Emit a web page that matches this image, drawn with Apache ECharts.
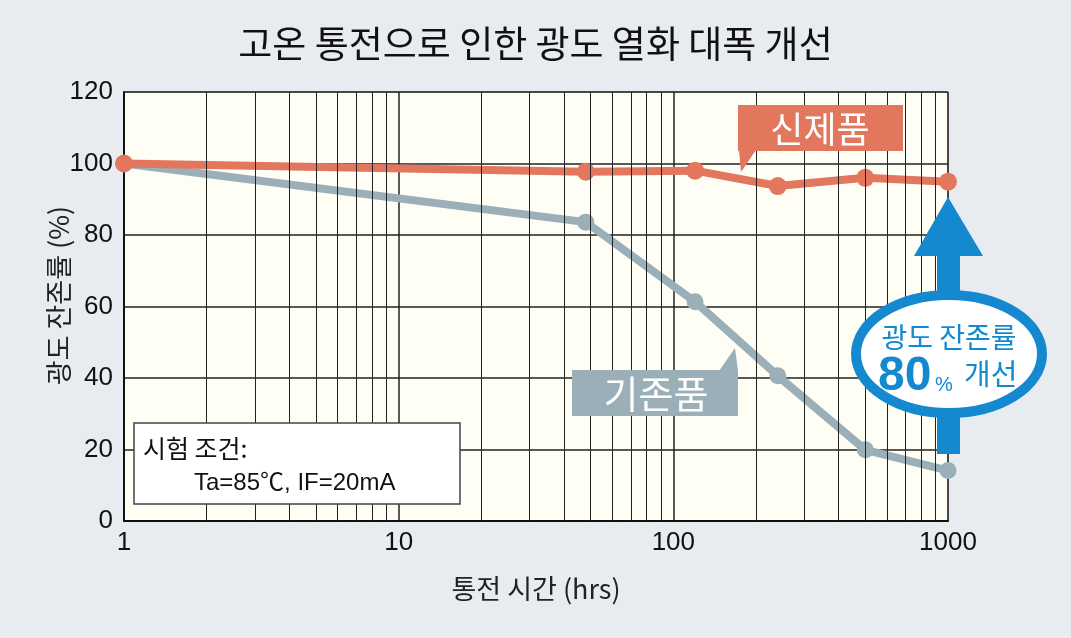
<!DOCTYPE html>
<html>
<head>
<meta charset="utf-8">
<script src="https://cdn.jsdelivr.net/npm/echarts@6/dist/echarts.min.js"></script>
<style>
  html, body { margin: 0; padding: 0; background: #e8ecf0; }
  #chart { width: 1071px; height: 638px; }
</style>
</head>
<body>
<div id="chart"></div>
<script>
// 통전 시간 (hrs)
const hours = [1, 48, 120, 240, 500, 1000]
// 신제품 광도 잔존률 (%)
const newProduct = [100, 97.7, 98, 93.7, 96, 94.9]
// 기존품 광도 잔존률 (%)
const oldProduct = [100, 83.6, 61.3, 40.6, 19.9, 14.1]
// 로그 눈금 (보조 격자선)
const decades = [1, 10, 100]
const minorSteps = [2, 3, 4, 5, 6, 7, 8, 9]

const FONT = '"Liberation Sans", "Noto Sans CJK KR", sans-serif'
const KFONT = '"Noto Sans CJK KR", "Liberation Sans", sans-serif'
const ORANGE = '#e3775e'
const GRAY = '#9bafb8'
const BLUE = '#1589cf'

const minorLines = []
decades.forEach(d => minorSteps.forEach(s => minorLines.push({ xAxis: d * s })))

const chart = echarts.init(document.getElementById('chart'))

const option = {
  backgroundColor: '#e8ecf0',
  animation: false,
  title: {
    text: '고온 통전으로 인한 광도 열화 대폭 개선',
    left: 'center',
    top: 20,
    textStyle: { fontFamily: KFONT, fontSize: 37, fontWeight: 'normal', color: '#111' }
  },
  grid: {
    left: 124, right: 123, top: 92, bottom: 117,
    show: true,
    backgroundColor: '#fffef5',
    borderColor: '#777',
    borderWidth: 1
  },
  xAxis: {
    type: 'log',
    logBase: 10,
    min: 1,
    max: 1000,
    name: '통전 시간 (hrs)',
    nameLocation: 'middle',
    nameGap: 54,
    nameTextStyle: { fontFamily: KFONT, fontSize: 27, color: '#222' },
    axisLine: { lineStyle: { color: '#111', width: 2 } },
    axisTick: { show: false },
    axisLabel: {
      fontFamily: FONT, fontSize: 26, color: '#111', margin: 9,
      showMinLabel: true, showMaxLabel: true,
      formatter: v => String(v)
    },
    splitLine: { show: true, lineStyle: { color: '#222', width: 1.5 } }
  },
  yAxis: {
    type: 'value',
    min: 0,
    max: 120,
    interval: 20,
    name: '광도 잔존률 (%)',
    nameLocation: 'middle',
    nameRotate: 90,
    nameGap: 52,
    nameMoveOverlap: false,
    nameTextStyle: { fontFamily: KFONT, fontSize: 27, color: '#222', padding: [0, 0, 0, 22] },
    axisLine: { show: true, lineStyle: { color: '#111', width: 2 } },
    axisTick: { show: false },
    axisLabel: { fontFamily: FONT, fontSize: 26, color: '#111', margin: 11 },
    splitLine: { show: true, lineStyle: { color: '#222', width: 1.5 } }
  },
  series: [
    {
      name: 'grid-minor',
      type: 'line',
      data: [],
      silent: true,
      z: 1,
      markLine: {
        silent: true,
        symbol: 'none',
        label: { show: false },
        lineStyle: { color: '#222', width: 1, type: 'solid' },
        data: minorLines
      }
    },
    {
      name: '기존품',
      type: 'line',
      z: 3,
      data: hours.map((h, i) => [h, oldProduct[i]]),
      lineStyle: { color: GRAY, width: 8 },
      itemStyle: { color: GRAY },
      symbol: 'circle',
      symbolSize: 17,
      showAllSymbol: true
    },
    {
      name: '신제품',
      type: 'line',
      z: 4,
      data: hours.map((h, i) => [h, newProduct[i]]),
      lineStyle: { color: ORANGE, width: 8 },
      itemStyle: { color: ORANGE },
      symbol: 'circle',
      symbolSize: 18,
      showAllSymbol: true
    }
  ],
  graphic: [
    // 시험 조건 상자
    {
      type: 'rect', z: 10,
      shape: { x: 134, y: 423, width: 326, height: 81 },
      style: { fill: '#ffffff', stroke: '#444', lineWidth: 1.5 }
    },
    {
      type: 'text', z: 11, x: 143, y: 448,
      style: {
        text: '시험 조건:', fontFamily: KFONT, fontSize: 25, fill: '#111',
        align: 'left', verticalAlign: 'middle'
      }
    },
    {
      type: 'text', z: 11, x: 194, y: 483,
      style: {
        text: 'Ta=85℃, IF=20mA', fontFamily: FONT, fontSize: 24, fill: '#111',
        align: 'left', verticalAlign: 'middle'
      }
    },
    // 신제품 말풍선
    {
      type: 'polygon', z: 10,
      shape: { points: [[739, 150], [756, 150], [741, 172]] },
      style: { fill: ORANGE }
    },
    {
      type: 'rect', z: 10,
      shape: { x: 738, y: 105, width: 165, height: 46 },
      style: { fill: ORANGE }
    },
    {
      type: 'text', z: 11, x: 820, y: 129,
      style: {
        text: '신제품', fontFamily: KFONT, fontSize: 36, fill: '#fff',
        align: 'center', verticalAlign: 'middle'
      }
    },
    // 기존품 말풍선
    {
      type: 'polygon', z: 10,
      shape: { points: [[719, 371], [738, 371], [735, 348]] },
      style: { fill: GRAY }
    },
    {
      type: 'rect', z: 10,
      shape: { x: 572, y: 370, width: 166, height: 46 },
      style: { fill: GRAY }
    },
    {
      type: 'text', z: 11, x: 656, y: 394,
      style: {
        text: '기존품', fontFamily: KFONT, fontSize: 38, fill: '#fff',
        align: 'center', verticalAlign: 'middle'
      }
    },
    // 개선 화살표
    {
      type: 'polygon', z: 12,
      shape: {
        points: [
          [948, 197], [983, 256], [960, 256], [960, 454],
          [937, 454], [937, 256], [914, 256]
        ]
      },
      style: { fill: BLUE }
    },
    {
      type: 'ellipse', z: 13,
      shape: { cx: 949, cy: 354, rx: 93, ry: 59 },
      style: { fill: '#ffffff', stroke: BLUE, lineWidth: 10 }
    },
    {
      type: 'text', z: 14, x: 949, y: 337,
      style: {
        text: '광도 잔존률', fontFamily: KFONT, fontSize: 28, fill: BLUE,
        align: 'center', verticalAlign: 'middle'
      }
    },
    {
      type: 'text', z: 14, x: 878, y: 377,
      style: {
        text: '80', fontFamily: FONT, fontSize: 48, fontWeight: 'bold', fill: BLUE,
        align: 'left', verticalAlign: 'middle'
      }
    },
    {
      type: 'text', z: 14, x: 935, y: 385,
      style: {
        text: '%', fontFamily: FONT, fontSize: 20, fill: BLUE,
        align: 'left', verticalAlign: 'middle'
      }
    },
    {
      type: 'text', z: 14, x: 964, y: 374,
      style: {
        text: '개선', fontFamily: KFONT, fontSize: 29, fill: BLUE,
        align: 'left', verticalAlign: 'middle'
      }
    }
  ]
}

chart.setOption(option)
</script>
</body>
</html>
